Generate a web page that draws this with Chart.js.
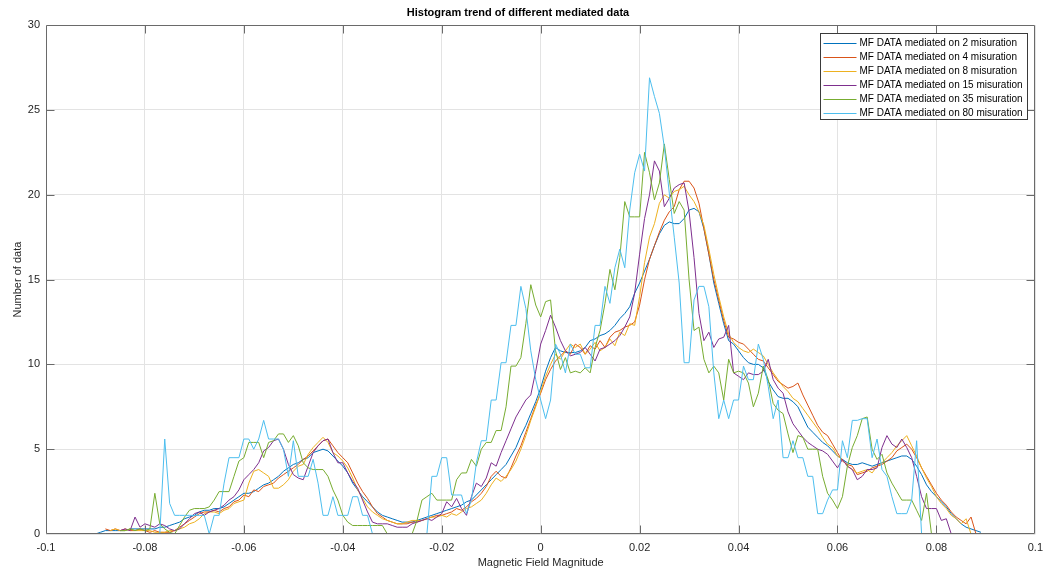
<!DOCTYPE html>
<html>
<head>
<meta charset="utf-8">
<script src="https://cdn.jsdelivr.net/npm/chart.js@4.4.1/dist/chart.umd.min.js"></script>
<style>
html,body{margin:0;padding:0;background:#fff;}
#wrap{width:1050px;height:571px;position:relative;}
</style>
</head>
<body>
<div id="wrap"><canvas id="c" width="1050" height="571"></canvas></div>
<script>
// ---- histogram bins (bin centres) ----
const binStart = -0.090;
const binWidth = 0.001;
const binCount = 180;

// ---- axis ticks ----
const xTickValues = [-0.1, -0.08, -0.06, -0.04, -0.02, 0, 0.02, 0.04, 0.06, 0.08, 0.1];
const xTickLabels = ["-0.1", "-0.08", "-0.06", "-0.04", "-0.02", "0", "0.02", "0.04", "0.06", "0.08", "0.1"];
const yTickValues = [0, 5, 10, 15, 20, 25, 30];
const yTickLabels = ["0", "5", "10", "15", "20", "25", "30"];

// ---- series labels ----
const seriesLabels = [
  "MF DATA mediated on 2 misuration",
  "MF DATA mediated on 4 misuration",
  "MF DATA mediated on 8 misuration",
  "MF DATA mediated on 15 misuration",
  "MF DATA mediated on 35 misuration",
  "MF DATA mediated on 80 misuration"
];

// ---- series values (one per bin, null = no data) ----
const mediated2 = [
  0.0,0.1,0.2,0.2,0.2,0.2,0.2,0.3,0.3,0.3,
  0.3,0.3,0.3,0.4,0.4,0.5,0.6,0.7,0.9,1.0,
  1.1,1.3,1.4,1.4,1.5,1.5,1.6,1.8,2.0,2.2,
  2.4,2.4,2.5,2.7,2.9,3.0,3.2,3.4,3.7,3.9,
  4.1,4.2,4.4,4.5,4.8,4.9,5.0,4.9,4.6,4.3,
  4.0,3.6,3.0,2.6,2.2,1.9,1.6,1.3,1.1,1.0,
  0.9,0.8,0.7,0.7,0.7,0.8,0.9,1.0,1.1,1.2,
  1.3,1.4,1.5,1.6,1.7,1.9,2.0,2.3,2.6,2.9,
  3.2,3.5,3.8,4.1,4.6,5.1,5.8,6.4,7.1,7.8,
  8.6,9.6,10.4,11.0,10.8,10.7,10.7,10.7,10.8,11.0,
  11.4,11.5,11.7,11.8,12.0,12.3,12.7,13.0,13.4,14.2,
  14.8,15.5,16.2,17.0,17.7,18.2,18.4,18.3,18.3,18.6,
  19.1,19.2,19.0,18.0,16.5,14.8,13.6,12.4,11.4,11.2,
  10.8,10.4,10.1,10.0,10.0,9.8,9.0,8.5,8.1,8.0,
  8.0,7.8,7.5,6.9,6.3,6.0,5.7,5.4,5.2,4.9,
  4.6,4.4,4.2,4.1,4.1,4.2,4.1,4.0,4.1,4.2,
  4.3,4.4,4.5,4.6,4.6,4.4,4.0,3.5,2.9,2.5,
  2.2,1.9,1.6,1.2,0.9,0.6,0.4,0.3,0.2,0.1
];
const mediated4 = [
  null,null,0.3,0.2,0.3,0.2,0.3,0.2,0.2,0.3,
  0.2,0.1,0.2,0.1,0.1,0.1,0.2,0.4,0.6,0.8,
  1.0,1.2,1.3,1.3,1.4,1.3,1.5,1.6,1.9,2.0,
  2.3,2.2,2.6,2.5,2.8,2.9,3.0,3.3,3.5,3.7,
  3.9,4.1,4.4,4.6,4.9,5.2,5.5,5.6,5.2,4.8,
  4.5,4.2,3.6,3.0,2.5,2.1,1.6,1.2,1.0,0.8,
  0.7,0.6,0.6,0.6,0.7,0.7,0.8,0.9,1.0,1.1,
  1.1,1.2,1.3,1.5,1.4,1.6,1.9,2.1,2.4,2.8,
  3.4,3.7,3.4,3.3,3.9,4.6,5.2,6.0,6.8,7.6,
  8.3,9.1,9.7,10.2,10.5,10.8,10.6,11.2,11.0,10.6,
  11.1,10.9,11.4,11.0,11.6,11.9,12.0,12.2,12.3,12.5,
  13.5,15.0,16.2,17.0,17.8,18.5,19.0,19.3,20.3,20.8,
  20.8,20.4,19.5,18.0,16.5,15.0,13.8,12.6,11.6,11.5,
  11.3,11.2,10.9,10.6,10.3,10.2,9.8,9.4,9.0,8.8,
  8.6,8.7,8.9,8.2,7.6,7.0,6.4,6.0,5.8,5.3,
  4.8,4.3,4.1,4.0,3.5,3.6,3.7,3.9,4.0,4.1,
  4.3,4.5,4.9,5.1,5.3,5.0,4.5,3.9,3.4,2.9,
  2.4,2.0,1.7,1.3,1.0,0.8,0.6,1.0,0.0,null
];
const mediated8 = [
  null,null,null,0.2,0.3,0.2,0.2,0.3,0.2,0.2,
  0.2,0.2,0.1,0.1,0.1,0.2,0.2,0.3,0.4,0.6,
  0.7,0.9,1.2,1.3,1.3,1.2,1.4,1.5,1.8,1.9,
  2.0,3.0,3.7,3.8,3.6,3.4,2.7,2.7,2.9,3.2,
  3.7,4.0,4.1,4.7,5.1,5.4,5.7,5.4,4.8,4.6,
  4.3,3.9,3.3,2.6,2.1,1.6,1.3,1.1,0.9,0.8,
  0.7,0.6,0.6,0.7,0.8,0.8,0.8,0.9,1.0,1.0,
  1.1,1.0,1.2,1.1,1.3,1.5,1.6,1.8,2.0,2.4,
  2.9,3.3,3.1,3.4,3.8,4.3,5.0,5.8,6.7,7.5,
  8.4,9.3,10.0,10.6,10.3,10.8,11.2,11.0,11.2,10.6,
  10.9,11.3,10.8,11.0,11.5,11.1,11.9,11.7,12.4,12.3,
  14.0,16.0,17.5,18.3,19.5,20.0,19.8,20.2,20.3,20.5,
  20.0,19.6,19.0,18.2,16.8,15.3,14.0,12.8,11.8,11.3,
  11.0,10.8,10.7,10.9,10.7,10.5,10.0,9.5,9.1,8.7,
  8.4,8.0,7.8,7.4,7.0,6.6,6.2,5.7,5.3,5.1,
  4.6,4.4,4.0,3.8,3.6,3.7,3.8,3.6,4.0,4.2,
  4.5,4.8,5.2,5.5,5.8,5.2,4.6,3.9,3.3,2.8,
  2.2,1.8,1.5,1.1,0.9,0.6,0.9,0.0,null,null
];
const mediated15 = [
  null,null,null,null,null,0.2,0.3,0.2,1.0,0.4,
  0.6,0.5,0.4,0.6,0.5,0.3,0.2,0.3,0.6,0.9,
  1.2,1.3,1.1,1.3,1.4,1.5,1.7,2.0,2.2,2.6,
  3.2,3.5,3.8,4.2,4.9,5.1,5.5,5.6,5.0,4.1,
  3.5,3.3,3.2,4.0,4.8,5.2,5.5,5.6,4.8,4.2,
  4.2,3.6,3.1,2.7,2.0,1.3,0.7,0.6,0.6,0.6,
  0.5,0.4,0.4,0.4,0.6,0.7,0.8,0.9,0.8,1.0,
  1.2,1.9,1.6,2.1,1.5,1.1,2.2,3.0,2.8,3.3,
  4.2,4.0,4.8,5.5,6.2,6.9,7.4,7.9,8.2,9.6,
  11.2,12.0,12.9,12.2,11.4,10.8,10.5,10.6,10.7,11.0,
  10.6,10.2,10.9,11.0,11.2,11.4,11.7,12.2,12.8,14.2,
  16.5,18.6,20.0,22.0,21.4,19.3,19.8,20.4,20.6,20.7,
  19.0,16.3,13.0,11.4,11.9,11.0,11.5,11.6,12.3,9.5,
  9.3,9.1,9.5,9.4,9.4,9.6,10.3,9.1,8.6,8.3,
  7.2,6.5,6.1,5.7,5.4,5.2,5.0,4.9,4.7,4.3,
  3.9,4.4,4.0,3.8,3.2,3.4,3.8,3.8,3.9,5.1,
  5.8,5.3,5.1,5.6,5.1,4.5,3.4,2.2,1.5,1.5,
  1.5,0.8,0.9,0.0,null,null,null,null,null,null
];
const mediated35 = [
  null,null,null,null,null,0.2,0.2,0.3,0.2,0.3,
  0.2,0.3,2.4,0.6,0.3,0.1,0.0,0.5,1.0,1.4,
  1.5,1.5,1.5,1.6,2.0,2.5,2.5,2.5,3.4,4.3,
  4.5,5.4,5.4,5.4,4.5,5.4,5.5,5.9,5.9,5.4,
  5.8,5.2,4.2,3.9,3.8,3.8,3.8,3.4,2.6,2.0,
  1.1,0.7,0.5,0.5,0.5,0.5,0.5,0.5,0.5,0.0,
  0.0,0.0,0.0,0.0,0.0,0.8,2.0,2.2,2.4,2.0,
  2.0,2.0,2.0,3.2,3.6,3.6,4.4,4.0,5.0,5.4,
  5.4,6.1,6.1,7.5,9.9,9.9,10.4,12.4,14.7,13.5,
  12.8,13.7,13.8,10.8,9.7,10.4,9.5,9.6,9.5,9.8,
  9.5,11.0,12.0,13.6,15.6,14.4,16.3,19.6,18.7,18.7,
  18.7,22.5,21.3,19.7,20.7,23.0,20.9,18.9,19.6,19.1,
  15.0,12.0,12.2,10.3,9.5,9.9,9.5,7.9,10.3,9.5,
  9.6,9.5,8.9,7.5,8.3,9.9,9.1,7.7,7.3,7.1,
  5.9,4.8,5.8,5.7,5.0,5.0,5.0,3.4,2.4,2.0,
  1.5,2.2,4.0,5.1,5.8,6.8,6.9,5.0,4.4,4.7,
  3.6,3.0,2.5,2.0,2.0,2.0,1.4,0.8,2.4,0.0,
  null,null,null,null,null,null,null,null,null,null
];
const mediated80 = [
  null,null,null,null,null,null,null,null,null,null,
  null,null,null,0.0,5.6,1.8,1.1,1.1,1.1,1.1,
  1.1,1.1,1.1,0.0,1.1,1.1,3.0,4.5,4.5,4.5,
  5.6,5.6,5.0,5.6,6.7,5.6,5.6,5.6,5.0,3.4,
  5.5,3.4,3.4,3.4,4.4,3.0,1.1,1.1,2.2,1.1,
  1.1,1.1,2.2,2.2,1.1,1.1,0.0,0.0,0.0,0.0,
  0.0,0.0,0.0,0.0,0.0,0.0,0.0,0.0,3.4,3.4,
  4.5,4.5,2.3,2.3,2.3,1.2,2.0,4.2,5.5,5.5,
  7.9,7.9,10.1,10.1,12.3,12.3,14.6,13.3,10.8,9.1,
  7.9,6.8,7.9,11.2,10.6,9.5,11.2,10.6,10.6,9.8,
  9.8,12.3,12.3,14.6,13.6,15.7,16.8,15.7,19.1,21.3,
  22.4,21.4,26.9,25.8,24.8,22.8,20.1,17.5,14.8,10.1,
  10.1,13.8,14.6,14.6,13.4,9.5,6.8,7.9,6.8,7.9,
  7.9,9.9,9.1,9.1,11.2,10.3,8.7,6.8,7.9,4.5,
  4.5,5.5,4.5,4.5,3.4,3.4,1.2,1.2,2.0,2.6,
  2.6,5.5,4.5,6.7,6.7,6.8,6.8,4.5,5.6,3.8,
  3.4,2.2,1.2,1.2,1.2,2.0,5.5,0.0,null,null,
  null,null,null,null,null,null,null,null,null,null
];

const seriesValues = [mediated2, mediated4, mediated8, mediated15, mediated35, mediated80];
const seriesColors = ["#0072BD", "#D95319", "#EDB120", "#7E2F8E", "#77AC30", "#4DBEEE"];

const bins = [];
for (let i = 0; i < binCount; i++) bins.push(+(binStart + i * binWidth).toFixed(3));

function toPoints(vals) {
  const pts = [];
  vals.forEach((v, i) => { if (v !== null) pts.push({x: bins[i], y: v}); });
  return pts;
}

const datasets = seriesValues.map((vals, k) => ({
  label: seriesLabels[k],
  data: toPoints(vals),
  borderColor: seriesColors[k],
  backgroundColor: seriesColors[k],
  borderWidth: 1,
  pointRadius: 0,
  tension: 0,
  fill: false,
  order: seriesValues.length - k
}));

const TEXT = "#262626";
const FONT = "'Liberation Sans', Arial, Helvetica, sans-serif";

const matlabAxes = {
  id: 'matlabAxes',
  afterDatasetsDraw(chart) {
    const {ctx, chartArea: a, scales: {x, y}} = chart;
    const L = Math.round(a.left) + 0.5, R = Math.round(a.right) - 0.5;
    const T = Math.round(a.top) + 0.5, B = Math.round(a.bottom) - 0.5;
    const tl = 8;
    ctx.save();
    ctx.strokeStyle = "#6a6a6a";
    ctx.lineWidth = 1;
    ctx.beginPath();
    ctx.rect(L, T, R - L, B - T);
    xTickValues.forEach(v => {
      const px = Math.round(x.getPixelForValue(v)) + 0.5;
      if (px <= L + 1 || px >= R - 1) return;
      ctx.moveTo(px, B); ctx.lineTo(px, B - tl);
      ctx.moveTo(px, T); ctx.lineTo(px, T + tl);
    });
    yTickValues.forEach(v => {
      const py = Math.round(y.getPixelForValue(v)) + 0.5;
      if (py <= T + 1 || py >= B - 1) return;
      ctx.moveTo(L, py); ctx.lineTo(L + tl, py);
      ctx.moveTo(R, py); ctx.lineTo(R - tl, py);
    });
    ctx.stroke();
    ctx.restore();
  },
  afterDraw(chart) {
    const {ctx, chartArea: a} = chart;
    const ds = chart.data.datasets;
    ctx.save();
    ctx.font = "10px " + FONT;
    let maxW = 0;
    ds.forEach(d => { maxW = Math.max(maxW, ctx.measureText(d.label).width); });
    const rowH = 14, sample = 33, gap = 3, padL = 3, padR = 5, padT = 9;
    const w = Math.round(padL + sample + gap + maxW + padR);
    const h = padT + rowH * (ds.length - 1) + 7;
    const x0 = Math.round(a.right - 8 - w) + 0.5;
    const y0 = Math.round(a.top + 8) + 0.5;
    ctx.fillStyle = "#ffffff";
    ctx.fillRect(x0, y0, w, h);
    ctx.strokeStyle = "#3a3a3a";
    ctx.lineWidth = 1;
    ctx.strokeRect(x0, y0, w, h);
    ctx.textBaseline = "middle";
    ctx.textAlign = "left";
    ds.forEach((d, i) => {
      const cy = Math.round(y0 + padT + i * rowH) + 0.5;
      ctx.strokeStyle = seriesColors[i];
      ctx.lineWidth = 1;
      ctx.beginPath();
      ctx.moveTo(x0 + padL, cy);
      ctx.lineTo(x0 + padL + sample, cy);
      ctx.stroke();
      ctx.fillStyle = "#000000";
      ctx.fillText(d.label, x0 + padL + sample + gap, cy);
    });
    ctx.restore();
  }
};

new Chart(document.getElementById('c'), {
  type: 'line',
  data: { datasets },
  options: {
    responsive: false,
    animation: false,
    devicePixelRatio: 1,
    layout: { padding: { left: 0, right: 14, top: 0, bottom: 0 } },
    plugins: {
      legend: { display: false },
      tooltip: { enabled: false },
      title: {
        display: true,
        text: "Histogram trend of different mediated data",
        color: "#000000",
        font: { family: FONT, size: 11, weight: 'bold', lineHeight: 1.2 },
        padding: { top: 6, bottom: 6 }
      }
    },
    scales: {
      x: {
        type: 'linear',
        min: -0.1,
        max: 0.1,
        afterBuildTicks: s => { s.ticks = xTickValues.map(v => ({ value: v })); },
        afterFit: s => { s.height = 37; },
        ticks: {
          autoSkip: false,
          maxRotation: 0,
          padding: 7,
          color: TEXT,
          font: { family: FONT, size: 11 },
          callback: v => { const i = xTickValues.findIndex(t => Math.abs(t - v) < 1e-9); return i >= 0 ? xTickLabels[i] : ''; }
        },
        grid: { color: "#e3e3e3", drawTicks: false },
        border: { display: false },
        title: {
          display: true,
          text: "Magnetic Field Magnitude",
          color: TEXT,
          font: { family: FONT, size: 11, lineHeight: 1.2 },
          padding: { top: 0, bottom: 1 }
        }
      },
      y: {
        type: 'linear',
        min: 0,
        max: 30,
        afterBuildTicks: s => { s.ticks = yTickValues.map(v => ({ value: v })); },
        afterFit: s => { s.width = 46; },
        ticks: {
          autoSkip: false,
          padding: 6,
          color: TEXT,
          font: { family: FONT, size: 11 },
          callback: v => { const i = yTickValues.indexOf(v); return i >= 0 ? yTickLabels[i] : ''; }
        },
        grid: { color: "#e3e3e3", drawTicks: false },
        border: { display: false },
        title: {
          display: true,
          text: "Number of data",
          color: TEXT,
          font: { family: FONT, size: 11, lineHeight: 1.2 },
          padding: { top: 11, bottom: 0 }
        }
      }
    }
  },
  plugins: [matlabAxes]
});
</script>
</body>
</html>
